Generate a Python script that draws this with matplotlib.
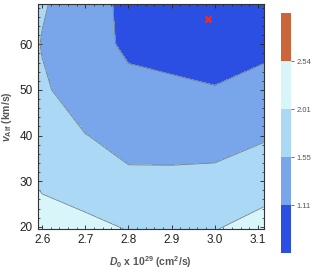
import matplotlib
matplotlib.use("Agg")
import matplotlib.pyplot as plt
from matplotlib.colors import ListedColormap
from matplotlib.ticker import AutoMinorLocator
import numpy as np

plt.rcParams['font.family'] = ['Liberation Sans', 'DejaVu Sans']
plt.rcParams['mathtext.fontset'] = 'custom'
plt.rcParams['mathtext.rm'] = 'Liberation Sans'
plt.rcParams['mathtext.it'] = 'Liberation Sans:italic'
plt.rcParams['mathtext.bf'] = 'Liberation Sans:bold'
plt.rcParams['mathtext.bfit'] = 'Liberation Sans:bold:italic'

# grid
d0 = [2.59, 2.6, 2.7, 2.8, 2.9, 3.0, 3.114]
valf = [19.5, 30, 40, 50, 60, 68.8]
z = [
    [2.20, 2.18, 2.06, 2.004, 2.00, 2.00, 2.12],
    [1.976, 1.948, 1.918, 1.623, 1.62, 1.63, 1.884],
    [1.85, 1.80, 1.56, 1.42, 1.42, 1.43, 1.491],
    [1.70, 1.62, 1.30, 1.25, 1.20, 1.15, 1.30],
    [1.58, 1.52, 1.35, 1.009, 0.935, 0.75, 0.972],
    [1.62, 1.60, 1.25, 1.03, 0.90, 0.70, 0.90],
]
levels = [0.5, 1.11, 1.55, 2.01, 2.54, 3.0]
cb_ticks = [1.11, 1.55, 2.01, 2.54]
best = (2.984, 65.5)

colors = ['#2b4fe3', '#79a6ea', '#aad8f5', '#d8f6fa', '#cc653c']
cmap = ListedColormap(colors)

fig = plt.figure(figsize=(3.16, 2.79), dpi=100)
ax = fig.add_axes([0.120, 0.179, 0.715, 0.806])
cax = fig.add_axes([0.890, 0.093, 0.032, 0.860])

X, Y = np.meshgrid(d0, valf)
Z = np.array(z)
cs = ax.contourf(X, Y, Z, levels=levels, cmap=cmap)
ax.contour(X, Y, Z, levels=levels[1:-1], colors='#6f7f8a', linewidths=0.6)
ax.plot(best[0], best[1], marker='x', color='#e53030', ms=4, mew=1.8)

ax.set_xlim(d0[0], d0[-1])
ax.set_ylim(valf[0], valf[-1])
ax.set_xticks([2.6, 2.7, 2.8, 2.9, 3.0, 3.1])
ax.set_yticks([20, 30, 40, 50, 60])
ax.xaxis.set_minor_locator(AutoMinorLocator(5))
ax.yaxis.set_minor_locator(AutoMinorLocator(5))
ax.tick_params(which='both', direction='in', top=True, right=True, labelsize=8.5, colors='#222222')
ax.tick_params(which='major', length=3, width=0.6)
ax.tick_params(which='minor', length=1.5, width=0.5)
for s in ax.spines.values():
    s.set_linewidth(0.8)
    s.set_color('#333333')

ax.set_xlabel(r'$\mathbfit{D}_\mathbf{0}$ x 10$^\mathbf{29}$ (cm$^\mathbf{2}$/s)',
              fontsize=7.5, fontweight='bold', color='#555555', labelpad=6)
ax.set_ylabel(r'$\mathbfit{v}_\mathbf{Alf}$ (km/s)',
              fontsize=7.5, fontweight='bold', color='#555555', labelpad=4)

cb = fig.colorbar(cs, cax=cax, ticks=cb_ticks)
cb.outline.set_visible(False)
cb.ax.tick_params(labelsize=5.5, colors='#555555', length=2.5, width=0.6, pad=1)

plt.savefig('out.png', dpi=100)
